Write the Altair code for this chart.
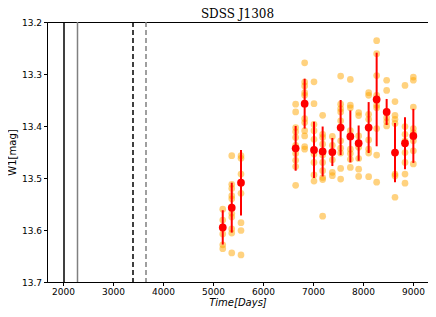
import altair as alt
import pandas as pd

title_text = ["SDSS J1308"]

# epoch mean times (days) and mean magnitudes with errors
epoch_day = [5195, 5375, 5560, 6653, 6833, 7020, 7193, 7387, 7553, 7747, 7913, 8113, 8273, 8473, 8640, 8840, 9007]
epoch_mag = [13.595, 13.557, 13.509, 13.443, 13.357, 13.446, 13.449, 13.450, 13.403, 13.420,
             13.433, 13.403, 13.349, 13.373, 13.451, 13.433, 13.419]
epoch_err = [0.033, 0.048, 0.063, 0.043, 0.048, 0.054, 0.048, 0.027, 0.053, 0.050,
             0.034, 0.049, 0.090, 0.025, 0.057, 0.050, 0.052]

# single-exposure magnitudes per epoch
obs_mag = [
    [13.560, 13.581, 13.595, 13.6075, 13.6285, 13.636],
    [13.457, 13.512, 13.520, 13.534, 13.540, 13.557, 13.568, 13.575, 13.598, 13.606, 13.644],
    [13.457, 13.462, 13.4925, 13.5295, 13.586, 13.601, 13.648],
    [13.358, 13.373, 13.403, 13.411, 13.422, 13.437, 13.453, 13.466, 13.478, 13.514],
    [13.2785, 13.3155, 13.323, 13.336, 13.341, 13.386, 13.3935, 13.409, 13.419, 13.4395, 13.4446],
    [13.315, 13.357, 13.397, 13.409, 13.4255, 13.454, 13.470, 13.494, 13.506],
    [13.3795, 13.416, 13.422, 13.435, 13.456, 13.470, 13.486, 13.499, 13.503, 13.5735],
    [13.420, 13.437, 13.452, 13.465, 13.489, 13.4956],
    [13.304, 13.358, 13.3667, 13.373, 13.390, 13.4286, 13.4427, 13.452, 13.4816, 13.502],
    [13.3105, 13.360, 13.365, 13.409, 13.4446, 13.453, 13.464, 13.4797],
    [13.374, 13.380, 13.419, 13.441, 13.4625, 13.483, 13.497],
    [13.336, 13.341, 13.3775, 13.387, 13.4267, 13.4446, 13.452, 13.4975],
    [13.236, 13.261, 13.303, 13.341, 13.360, 13.365, 13.405, 13.456, 13.508],
    [13.312, 13.3315, 13.373, 13.384, 13.3916, 13.400],
    [13.353, 13.3795, 13.387, 13.395, 13.4925, 13.496, 13.537],
    [13.322, 13.401, 13.416, 13.4286, 13.451, 13.470, 13.4925, 13.510],
    [13.306, 13.312, 13.3635, 13.405, 13.4126, 13.4286, 13.4477, 13.473],
]

# vertical reference lines
solid_day = [2020, 2290]
solid_color = ["#000000", "#808080"]
dash_day = [3400, 3660]
dash_color = ["#000000", "#808080"]

x_ticks = [2000, 3000, 4000, 5000, 6000, 7000, 8000, 9000]
y_ticks = [13.2, 13.3, 13.4, 13.5, 13.6, 13.7]

obs_rows = []
for d, mags in zip(epoch_day, obs_mag):
    for m in mags:
        obs_rows.append({"day": d, "mag": m})
obs_df = pd.DataFrame(obs_rows)

ep_df = pd.DataFrame({
    "day": epoch_day,
    "mag": epoch_mag,
    "lo": [m - e for m, e in zip(epoch_mag, epoch_err)],
    "hi": [m + e for m, e in zip(epoch_mag, epoch_err)],
})
solid_df = pd.DataFrame({"day": solid_day, "c": solid_color})
dash_df = pd.DataFrame({"day": dash_day, "c": dash_color})
title_df = pd.DataFrame({"t": title_text})

xs = alt.Scale(domain=[1680, 9300], nice=False, zero=False)
ys = alt.Scale(domain=[13.2, 13.7], reverse=True, nice=False, zero=False)

xax = alt.Axis(values=x_ticks, title="Time[Days]", titleFontStyle="italic",
               format="d", grid=False)
yax = alt.Axis(values=y_ticks, title="W1[mag]", format=".1f", grid=False)

X = alt.X("day:Q", scale=xs, axis=xax)
Y = alt.Y("mag:Q", scale=ys, axis=yax)

solid = alt.Chart(solid_df).mark_rule(strokeWidth=1.5).encode(
    x=alt.X("day:Q", scale=xs, axis=xax),
    color=alt.Color("c:N", scale=None),
)
dashed = alt.Chart(dash_df).mark_rule(strokeWidth=1.5, strokeDash=[5, 3]).encode(
    x=alt.X("day:Q", scale=xs, axis=xax),
    color=alt.Color("c:N", scale=None),
)
obs = alt.Chart(obs_df).mark_circle(color="#FFA500", opacity=0.5, size=45).encode(x=X, y=Y)
bars = alt.Chart(ep_df).mark_rule(color="#FF0000", strokeWidth=2).encode(
    x=X, y=alt.Y("lo:Q", scale=ys, axis=yax), y2="hi:Q"
)
means = alt.Chart(ep_df).mark_circle(color="#FF0000", opacity=1, size=60).encode(x=X, y=Y)
title = alt.Chart(title_df).mark_text(
    font="DejaVu Serif", fontSize=12, color="#000000", align="center", baseline="alphabetic"
).encode(text="t:N", x=alt.value(190.5), y=alt.value(-4))

chart = alt.layer(solid, dashed, obs, bars, means, title).properties(
    width=381,
    height=260,
    autosize=alt.AutoSizeParams(type="none"),
    padding={"left": 39, "top": 14, "right": 0, "bottom": 27},
).configure_view(
    stroke="#000000", strokeWidth=1
).configure_axis(
    labelFont="DejaVu Sans", labelFontSize=9, labelColor="#000000",
    titleFont="DejaVu Sans", titleFontSize=10, titleFontWeight="normal", titleColor="#000000",
    domainColor="#000000", tickColor="#000000", tickSize=3.5, labelPadding=2,
).configure_axisX(titlePadding=1).configure_axisY(titlePadding=4)

chart.save("out.html", embed_options={"renderer": "svg", "actions": False})
